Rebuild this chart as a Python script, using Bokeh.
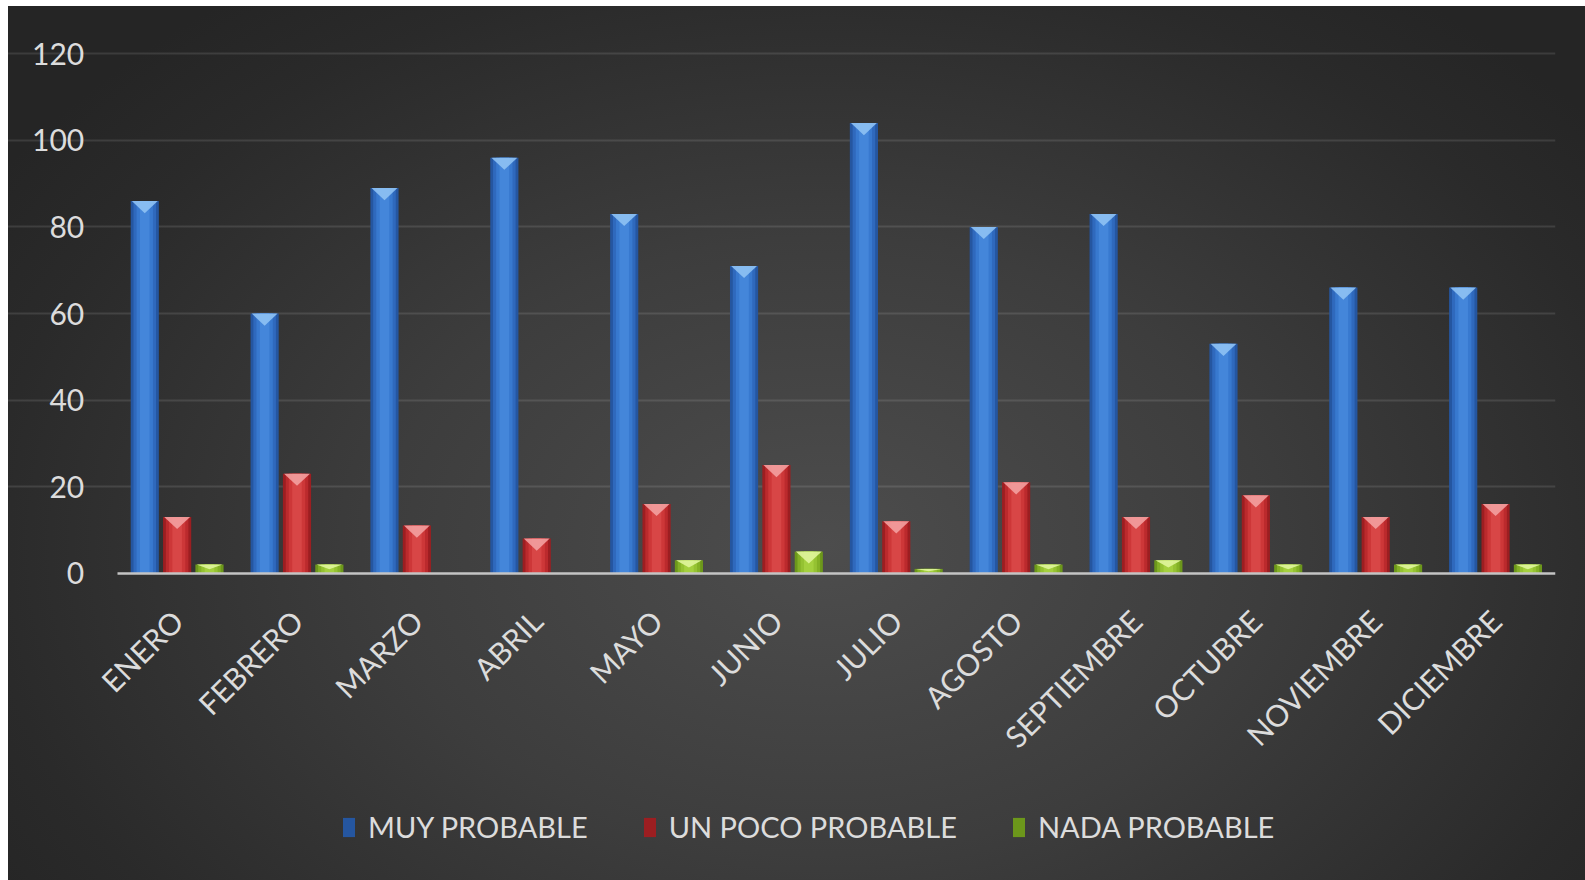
from math import pi

from bokeh.plotting import figure
from bokeh.models import Range1d, FixedTicker, Legend, LegendItem
from bokeh.embed import file_html
from bokeh.resources import INLINE

# --- data -------------------------------------------------------------
months = ["ENERO", "FEBRERO", "MARZO", "ABRIL", "MAYO", "JUNIO",
          "JULIO", "AGOSTO", "SEPTIEMBRE", "OCTUBRE", "NOVIEMBRE", "DICIEMBRE"]
muy_probable = [86, 60, 89, 96, 83, 71, 104, 80, 83, 53, 66, 66]
poco_probable = [13, 23, 11, 8, 16, 25, 12, 21, 13, 18, 13, 16]
nada_probable = [2, 2, 0, 0, 3, 5, 1, 2, 3, 2, 2, 2]
series_names = ["MUY PROBABLE", "UN POCO PROBABLE", "NADA PROBABLE"]
y_ticks = [0, 20, 40, 60, 80, 100, 120]

# --- styling ----------------------------------------------------------
FONT = "Lato"
TEXT = "#dcdcdc"
BAR_W = 0.235
OFFSETS = [-0.27, 0.0, 0.27]
# edge -> centre shades used to fake the rounded bar shading, plus the bevel cap
SHADES = [
    (["#2556a0", "#2f69bd", "#3879cf", "#4486da"], "#8fc2f3"),
    (["#9c1e21", "#bb2a2d", "#cd3738", "#d84646"], "#f3a0a0"),
    (["#6c971b", "#84b126", "#95c232", "#a4d03e"], "#e0f59c"),
]
LAYER_W = [1.0, 0.8, 0.58, 0.34]

# The frame covers the canvas (except a top strip) so that both axes can be
# pinned inside it and the legend can sit under the category labels.
p = figure(width=1585, height=880,
           x_range=Range1d(-0.9737, 12), y_range=Range1d(-71.0, 125.4),
           output_backend="svg", toolbar_location=None,
           min_border_left=0, min_border_right=30,
           min_border_top=30, min_border_bottom=0)

p.styles = {
    "background": (
        "linear-gradient(#ffffff,#ffffff) 0 0/100% 6px no-repeat,"
        "linear-gradient(#ffffff,#ffffff) 0 0/8px 100% no-repeat,"
        "radial-gradient(ellipse 62% 78% at 52% 62%, #4d4d4d 0%, #3d3d3d 45%, #2a2a2a 85%, #252525 100%)"
    )
}
p.border_fill_alpha = 0
p.background_fill_alpha = 0
p.outline_line_color = None

legend_items = []
for values, (shades, cap), off, name in zip(
        [muy_probable, poco_probable, nada_probable], SHADES, OFFSETS, series_names):
    xs = [i + 0.5 + off for i in range(len(months))]
    main = None
    for shade, lw in zip(shades, LAYER_W):
        r = p.vbar(x=xs, top=values, bottom=0, width=BAR_W * lw,
                   fill_color=shade, line_color=None)
        if main is None:
            main = r
    # bevel cap: a light triangle hanging from the top of each bar
    cap_x, cap_y = [], []
    for x, v in zip(xs, values):
        if v <= 0:
            continue
        h = min(2.8, v * 0.55)
        half = BAR_W / 2 * 0.92
        cap_x.append([x - half, x + half, x])
        cap_y.append([v, v, v - h])
    p.patches(cap_x, cap_y, fill_color=cap, fill_alpha=0.9, line_color=None)
    legend_items.append(LegendItem(label=name, renderers=[main]))

# --- axes -------------------------------------------------------------
xa = p.xaxis[0]
xa.fixed_location = 0
xa.bounds = (0, 12)
xa.ticker = FixedTicker(ticks=[i + 0.5 for i in range(len(months))])
xa.major_label_overrides = {i + 0.5: m for i, m in enumerate(months)}
xa.major_label_orientation = pi / 4
xa.major_label_standoff = 36
xa.major_label_text_font = FONT
xa.major_label_text_font_size = "30px"
xa.major_label_text_color = TEXT
xa.axis_line_color = "#c4c4c4"
xa.axis_line_width = 2.5
xa.major_tick_line_color = None
xa.minor_tick_line_color = None

ya = p.yaxis[0]
ya.fixed_location = 0
ya.bounds = (0, 120)
ya.ticker = FixedTicker(ticks=y_ticks)
ya.major_label_standoff = 27
ya.major_label_text_font = FONT
ya.major_label_text_font_size = "30px"
ya.major_label_text_color = TEXT
ya.axis_line_color = None
ya.major_tick_line_color = None
ya.minor_tick_line_color = None

p.xgrid.grid_line_color = None
p.ygrid.ticker = FixedTicker(ticks=y_ticks[1:])
p.ygrid.bounds = (0, 12)
p.ygrid.grid_line_color = "#ffffff"
p.ygrid.grid_line_alpha = 0.11
p.ygrid.grid_line_width = 2

legend = Legend(items=legend_items, orientation="horizontal",
                location=(341, 36),
                label_text_font=FONT, label_text_font_size="29px",
                label_text_color=TEXT,
                glyph_width=15, glyph_height=24, label_standoff=12,
                spacing=54, padding=0, margin=0,
                border_line_alpha=0, background_fill_alpha=0)
p.add_layout(legend)

open("out.html", "w").write(file_html(p, INLINE))
